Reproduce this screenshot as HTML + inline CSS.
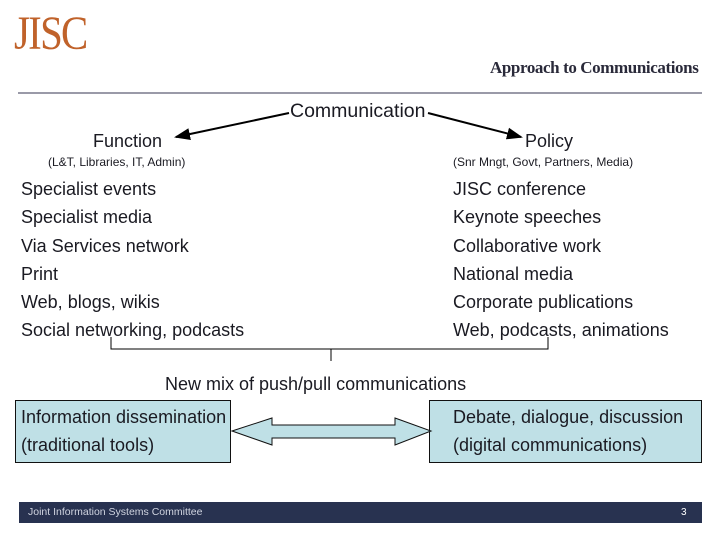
<!DOCTYPE html>
<html><head><style>
body{margin:0;width:720px;height:540px;background:#fff;position:relative;overflow:hidden;font-family:"Liberation Sans",sans-serif;color:#1a1a22}
.t{position:absolute;white-space:nowrap;line-height:1}
.b{position:absolute;background:#bfe0e6;border:1.5px solid #111;box-sizing:border-box}
</style></head><body>
<div class="t" style="left:14px;top:10px;font-family:'Liberation Serif',serif;font-size:48px;color:#c0622a;letter-spacing:-2px;transform:scaleX(0.85);transform-origin:left">JISC</div>
<div class="t" style="left:490px;top:59px;font-family:'Liberation Serif',serif;font-size:17px;font-weight:bold;color:#2a2a3a;letter-spacing:-0.4px">Approach to Communications</div>
<div style="position:absolute;left:18px;top:92px;width:684px;height:2px;background:#9a9aa8"></div>
<div class="t" style="left:290px;top:102px;font-size:19.5px">Communication</div>
<div class="t" style="left:93px;top:132px;font-size:18px">Function</div>
<div class="t" style="left:525px;top:132px;font-size:18px">Policy</div>
<div class="t" style="left:48px;top:156px;font-size:12px">(L&amp;T, Libraries, IT, Admin)</div>
<div class="t" style="left:453px;top:156px;font-size:12px">(Snr Mngt, Govt, Partners, Media)</div>
<div class="t" style="left:21px;top:175px;font-size:18px;line-height:28.3px">Specialist events<br>Specialist media<br>Via Services network<br>Print<br>Web, blogs, wikis<br>Social networking, podcasts</div>
<div class="t" style="left:453px;top:175px;font-size:18px;line-height:28.3px">JISC conference<br>Keynote speeches<br>Collaborative work<br>National media<br>Corporate publications<br>Web, podcasts, animations</div>
<div class="t" style="left:165px;top:375px;font-size:18px">New mix of push/pull communications</div>
<div class="b" style="left:15px;top:400px;width:216px;height:63px"></div>
<div class="b" style="left:429px;top:400px;width:273px;height:63px"></div>
<div class="t" style="left:21px;top:403px;font-size:18px;line-height:28px">Information dissemination<br>(traditional tools)</div>
<div class="t" style="left:453px;top:403px;font-size:18px;line-height:28px">Debate, dialogue, discussion<br>(digital communications)</div>
<svg style="position:absolute;left:0;top:0" width="720" height="540">
<defs><marker id="a" markerWidth="8" markerHeight="8" refX="7" refY="4" orient="auto"><path d="M0,1 L8,4 L0,7z" fill="#000"/></marker></defs>
<line x1="289" y1="113" x2="176" y2="137" stroke="#000" stroke-width="2" marker-end="url(#a)"/>
<line x1="428" y1="113" x2="521" y2="137" stroke="#000" stroke-width="2" marker-end="url(#a)"/>
<path d="M111,337 V349 H548 V337 M331,349 V361" fill="none" stroke="#000" stroke-width="1"/>
<path d="M232,431 L272,418 L272,425 L395,425 L395,418 L431,431 L395,445 L395,438 L272,438 L272,445 Z" fill="#bfe0e6" stroke="#111" stroke-width="1"/>
</svg>
<div style="position:absolute;left:19px;top:502px;width:683px;height:21px;background:#283250"></div>
<div class="t" style="left:28px;top:507px;font-size:10.5px;color:#d0d4e0">Joint Information Systems Committee</div>
<div class="t" style="left:681px;top:508px;font-size:10px;color:#fff">3</div>
</body></html>
